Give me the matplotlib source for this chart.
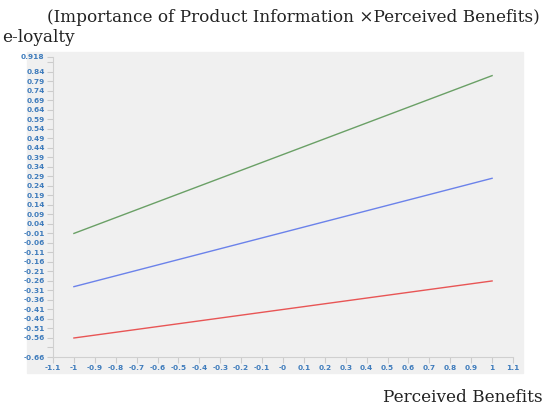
import numpy as np
import matplotlib.pyplot as plt
from matplotlib.patches import Rectangle

# simple slopes, e-loyalty vs perceived benefits
x_pts = [-1, 1]
high = [-0.01, 0.82]
mid = [-0.29, 0.28]
low = [-0.56, -0.26]

y_min = -0.66
y_max = 0.918
y_ticks = [round(-0.66 + 0.05 * k, 2) for k in range(32)]
y_labels = [('' if t in (-0.61, 0.89) else f'{t:g}') for t in y_ticks]
y_ticks.append(y_max)
y_labels.append('0.918')

x_ticks = [round(-1.1 + 0.1 * k, 1) for k in range(23)]
x_labels = [('-0' if t == 0 else f'{t:g}') for t in x_ticks]

fig = plt.figure(figsize=(5.45, 4.09), dpi=100)
fig.patches.append(Rectangle((27 / 545, 1 - 373 / 409), 496 / 545, 321 / 409,
                             transform=fig.transFigure, color='#f0f0f0', zorder=-5))

ax = fig.add_axes([53 / 545, 1 - 357 / 409, 460 / 545, 300 / 409])
ax.set_facecolor('#f0f0f0')

ax.plot(x_pts, high, color='#6aa066', lw=1)
ax.plot(x_pts, mid, color='#6b82ea', lw=1)
ax.plot(x_pts, low, color='#e85555', lw=1)

ax.set_xlim(-1.1, 1.1)
ax.set_ylim(y_min, y_max)
ax.set_xticks(x_ticks)
ax.set_xticklabels(x_labels)
ax.set_yticks(y_ticks)
ax.set_yticklabels(y_labels)
ax.tick_params(labelsize=5.3, colors='#cccccc', labelcolor='#3f7cbc', length=4, width=0.8, pad=2)
for lab in ax.get_xticklabels() + ax.get_yticklabels():
    lab.set_fontweight('bold')

for s in ['top', 'right']:
    ax.spines[s].set_visible(False)
for s in ['left', 'bottom']:
    ax.spines[s].set_color('#d0d0d0')
    ax.spines[s].set_linewidth(0.8)

serif = 'DejaVu Serif'
fig.text(540 / 545, 1 - 17 / 409, '(Importance of Product Information \u00d7Perceived Benefits)',
         ha='right', va='center', fontsize=12.2, family=serif, color='#222222')
fig.text(2 / 545, 1 - 38 / 409, 'e-loyalty', ha='left', va='center',
         fontsize=12.2, family=serif, color='#222222')
fig.text(543 / 545, 1 - 397 / 409, 'Perceived Benefits', ha='right', va='center',
         fontsize=12.2, family=serif, color='#222222')

fig.savefig('out.png', dpi=100)
